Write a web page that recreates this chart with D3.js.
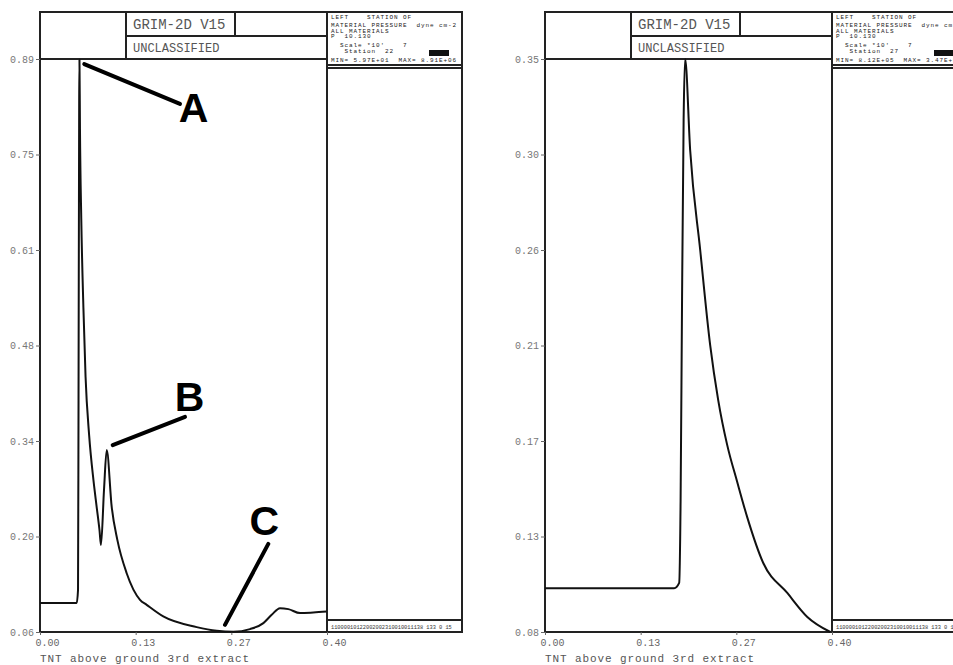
<!DOCTYPE html>
<html>
<head>
<meta charset="utf-8">
<script src="https://cdn.jsdelivr.net/npm/d3@7"></script>
<style>
  body { margin: 0; background: #fff; }
  svg { display: block; }
</style>
</head>
<body>
<svg id="chart" width="953" height="665"></svg>
<script>
// time axis shared by both station plots
const xDomain = [0, 0.4]
const xTickValues = [0, 0.4 / 3, 0.8 / 3, 0.4]
const xTickLabels = ['0.00', '0.13', '0.27', '0.40']
const xTitle = 'TNT above ground 3rd extract'

// station 22 (left)
const leftYDomain = [0.0597, 0.891]
const leftYLabels = ['0.06', '0.20', '0.34', '0.48', '0.61', '0.75', '0.89']
const leftTime = [0, 0.0511, 0.053, 0.0537, 0.0546, 0.055, 0.0557, 0.0575, 0.0605, 0.0635, 0.0685, 0.0745, 0.079, 0.0829, 0.085, 0.0892, 0.093,
  0.0999, 0.1078, 0.1208, 0.1394, 0.1487, 0.1718, 0.2184, 0.2463, 0.2694, 0.2927, 0.3113, 0.3229, 0.3345, 0.3461, 0.3624, 0.3809, 0.3996]
const leftPressure = [0.1016, 0.1016, 0.1208, 0.396, 0.8306, 0.89, 0.79, 0.66, 0.53, 0.43, 0.345, 0.28, 0.241, 0.2077, 0.186, 0.2657, 0.3236,
  0.2415, 0.1933, 0.145, 0.1064, 0.0991, 0.0822, 0.0668, 0.0614, 0.06, 0.0639, 0.0726, 0.0846, 0.0943, 0.0929, 0.0871, 0.088, 0.0894]
const leftInfo = ['LEFT    STATION OF', 'MATERIAL PRESSURE  dyne cm-2', 'ALL MATERIALS', 'P  10.130',
  '  Scale *10\'    7', '   Station  22', 'MIN= 5.97E+01  MAX= 8.91E+06']

// annotation callouts on the left plot (time, pressure)
const calloutNames = ['A', 'B', 'C']
const calloutFrom = [[0.0617, 0.8837], [0.1013, 0.3309], [0.2578, 0.0701]]
const calloutTo = [[0.1951, 0.8258], [0.2021, 0.3718], [0.3182, 0.1875]]
const calloutLabelAt = [[0.2139, 0.7991], [0.2086, 0.3801], [0.3125, 0.2005]]

// station 27 (right)
const rightYDomain = [0.0812, 0.347]
const rightYLabels = ['0.08', '0.13', '0.17', '0.21', '0.26', '0.30', '0.35']
const rightTime = [0, 0.18, 0.187, 0.189, 0.191, 0.1932, 0.1953, 0.2023, 0.2163, 0.2302, 0.2414, 0.2539, 0.2679, 0.2818, 0.3042, 0.3377, 0.3656, 0.3977]
const rightPressure = [0.1015, 0.1015, 0.104, 0.1424, 0.2352, 0.3187, 0.347, 0.3048, 0.2584, 0.2143, 0.1888, 0.168, 0.1508, 0.1345, 0.1132, 0.0993, 0.0882, 0.0812]
const rightInfo = ['LEFT    STATION OF', 'MATERIAL PRESSURE  dyne cm-2', 'ALL MATERIALS', 'P  10.130',
  '  Scale *10\'    7', '   Station  27', 'MIN= 8.12E+05  MAX= 3.47E+06']

const stripText = '11000010122002002310010011138 133 0 15'

const svg = d3.select('#chart')
const mono = 'Liberation Mono, DejaVu Sans Mono, monospace'

/**
 * Draws one GRIM-2D station frame with its pressure history.
 *
 * @param {number} dx Horizontal offset of the frame
 * @param {number[]} yDomain Pressure range of the plot
 * @param {string[]} yLabels Tick labels of the pressure axis
 * @param {number[]} time Time values of the trace
 * @param {number[]} pressure Pressure values of the trace
 * @param {string[]} info Lines of the info box
 * @returns {object} the scales of the plot
 */
function drawPanel (dx, yDomain, yLabels, time, pressure, info) {
  const g = svg.append('g').attr('transform', `translate(${dx},0)`)
  const left = 40
  const right = 327
  const top = 59
  const bottom = 632
  const boxRight = 462

  const x = d3.scaleLinear().domain(xDomain).range([left, right])
  const y = d3.scaleLinear().domain(yDomain).range([bottom, top])

  // frame and header cells
  const frame = [
    [left, 12, boxRight, 12], [left, bottom, boxRight, bottom], [left, 12, left, bottom], [boxRight, 12, boxRight, bottom],
    [left, top, right, top], [126, 36, right, 36], [126, 12, 126, top], [235, 12, 235, 36], [right, 12, right, bottom],
    [right, 65, boxRight, 65], [right, 68, boxRight, 68], [right, 620, boxRight, 620]
  ]
  g.selectAll('line.frame')
    .data(frame)
    .enter()
    .append('line')
    .attr('class', 'frame')
    .attr('x1', d => d[0]).attr('y1', d => d[1])
    .attr('x2', d => d[2]).attr('y2', d => d[3])
    .attr('stroke', '#222')
    .attr('stroke-width', 2)
    .attr('stroke-linecap', 'square')

  g.append('text')
    .attr('x', 133).attr('y', 29)
    .attr('font-family', mono).attr('font-size', 14)
    .attr('fill', '#555')
    .text('GRIM-2D V15')
  g.append('text')
    .attr('x', 133).attr('y', 52)
    .attr('font-family', mono).attr('font-size', 12)
    .attr('fill', '#555')
    .text('UNCLASSIFIED')

  const infoY = [19, 26.5, 32.5, 38, 47, 53, 61.5]
  g.selectAll('text.info')
    .data(info)
    .enter()
    .append('text')
    .attr('class', 'info')
    .attr('x', 331)
    .attr('y', (d, i) => infoY[i])
    .attr('font-family', mono)
    .attr('font-size', 6)
    .attr('letter-spacing', 0.9)
    .attr('fill', '#222')
    .attr('xml:space', 'preserve')
    .style('white-space', 'pre')
    .text(d => d)
  g.append('rect')
    .attr('x', 429).attr('y', 50).attr('width', 20).attr('height', 6)
    .attr('fill', '#111')

  g.append('text')
    .attr('x', 331).attr('y', 628.5)
    .attr('font-family', mono).attr('font-size', 5.3)
    .attr('fill', '#333')
    .text(stripText)

  // axes
  const yTicks = d3.range(7).map(i => yDomain[0] + i * (yDomain[1] - yDomain[0]) / 6)
  const yAxis = g.append('g')
    .attr('transform', `translate(${left},0)`)
    .call(d3.axisLeft(y).tickValues(yTicks).tickSize(4).tickPadding(2).tickFormat((d, i) => yLabels[i]))
  yAxis.select('.domain').remove()
  yAxis.selectAll('line').attr('stroke', '#666')
  yAxis.selectAll('text').attr('font-family', mono).attr('font-size', 10).attr('fill', '#777')

  const xAxis = g.append('g')
    .attr('transform', `translate(0,${bottom})`)
    .call(d3.axisBottom(x).tickValues(xTickValues).tickSize(3).tickPadding(4).tickFormat((d, i) => xTickLabels[i]))
  xAxis.select('.domain').remove()
  xAxis.selectAll('line').attr('stroke', '#666')
  xAxis.selectAll('text')
    .attr('text-anchor', 'start')
    .attr('dx', -5)
    .attr('font-family', mono).attr('font-size', 10).attr('fill', '#666')

  g.append('text')
    .attr('x', left).attr('y', 662)
    .attr('font-family', mono).attr('font-size', 11)
    .attr('letter-spacing', 0.9)
    .attr('fill', '#555')
    .text(xTitle)

  // pressure trace
  const points = time.map((t, i) => [t, pressure[i]])
  const line = d3.line()
    .x(d => x(d[0]))
    .y(d => y(d[1]))
    .curve(d3.curveMonotoneX)
  g.append('path')
    .datum(points)
    .attr('d', line)
    .attr('fill', 'none')
    .attr('stroke', '#111')
    .attr('stroke-width', 2)
    .attr('stroke-linejoin', 'round')

  return { g, x, y }
}

const leftPanel = drawPanel(0, leftYDomain, leftYLabels, leftTime, leftPressure, leftInfo)
drawPanel(505, rightYDomain, rightYLabels, rightTime, rightPressure, rightInfo)

// callouts A, B, C
const lp = leftPanel
lp.g.selectAll('line.callout')
  .data(calloutNames)
  .enter()
  .append('line')
  .attr('class', 'callout')
  .attr('x1', (d, i) => lp.x(calloutFrom[i][0]))
  .attr('y1', (d, i) => lp.y(calloutFrom[i][1]))
  .attr('x2', (d, i) => lp.x(calloutTo[i][0]))
  .attr('y2', (d, i) => lp.y(calloutTo[i][1]))
  .attr('stroke', '#000')
  .attr('stroke-width', 4)
  .attr('stroke-linecap', 'round')
lp.g.selectAll('text.callout')
  .data(calloutNames)
  .enter()
  .append('text')
  .attr('class', 'callout')
  .attr('x', (d, i) => lp.x(calloutLabelAt[i][0]))
  .attr('y', (d, i) => lp.y(calloutLabelAt[i][1]))
  .attr('text-anchor', 'middle')
  .attr('font-family', 'Liberation Sans, Arial, sans-serif')
  .attr('font-weight', 'bold')
  .attr('font-size', 41)
  .attr('fill', '#000')
  .text(d => d)
</script>
</body>
</html>
